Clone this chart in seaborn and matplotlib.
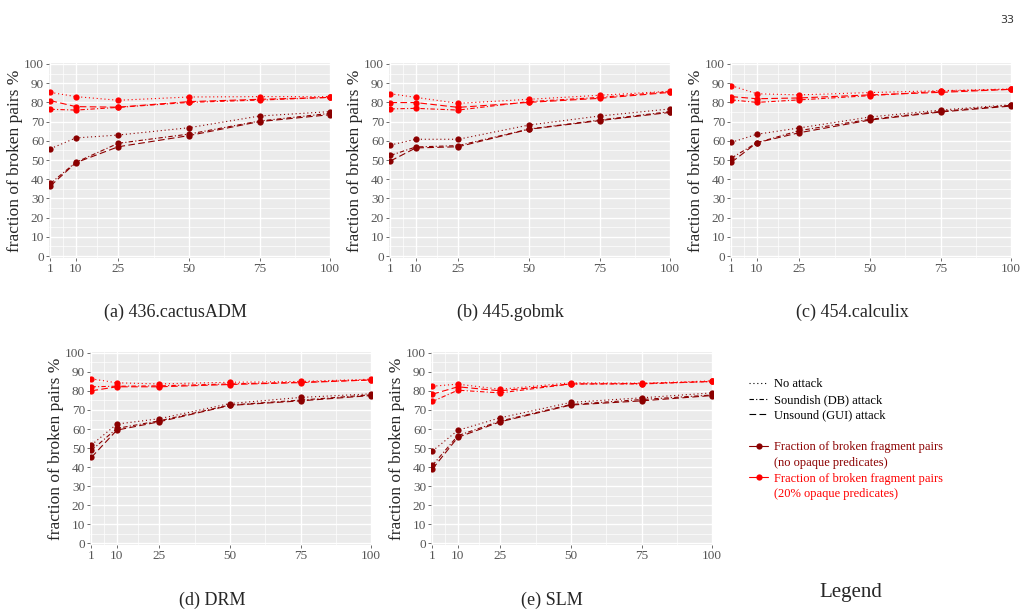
import numpy as np
import pandas as pd
import matplotlib
matplotlib.use('Agg')
import matplotlib.pyplot as plt
from matplotlib.lines import Line2D
import seaborn as sns

# percentage of fragments (x axis)
pct = [1, 10, 25, 50, 75, 100]

# 436.cactusADM
cactus_plain_none = [55.9, 61.5, 63.0, 66.8, 72.9, 75.2]
cactus_plain_db = [37.8, 48.8, 58.7, 63.5, 70.3, 74.3]
cactus_plain_gui = [36.5, 48.6, 56.9, 62.7, 70.0, 73.6]
cactus_opaque_none = [85.2, 83.0, 81.1, 82.8, 83.0, 83.0]
cactus_opaque_db = [76.4, 76.0, 77.4, 80.0, 81.2, 82.6]
cactus_opaque_gui = [80.9, 77.8, 77.5, 80.4, 81.6, 82.6]

# 445.gobmk
gobmk_plain_none = [57.8, 60.8, 60.8, 68.2, 72.9, 76.6]
gobmk_plain_db = [52.4, 56.8, 57.5, 66.1, 70.8, 75.2]
gobmk_plain_gui = [49.5, 56.3, 56.9, 66.0, 70.5, 74.8]
gobmk_opaque_none = [84.5, 82.6, 79.5, 81.6, 83.7, 85.8]
gobmk_opaque_db = [76.6, 76.9, 76.0, 80.4, 82.6, 85.6]
gobmk_opaque_gui = [79.9, 79.9, 77.4, 80.0, 82.1, 85.2]

# 454.calculix
calculix_plain_none = [59.2, 63.4, 66.7, 72.4, 76.0, 78.8]
calculix_plain_db = [51.0, 59.0, 65.3, 71.2, 75.3, 78.5]
calculix_plain_gui = [48.8, 59.0, 64.2, 70.8, 75.0, 78.1]
calculix_opaque_none = [88.7, 84.5, 83.9, 85.1, 86.1, 87.0]
calculix_opaque_db = [81.3, 80.0, 81.3, 83.5, 85.8, 86.8]
calculix_opaque_gui = [83.0, 81.9, 82.3, 83.9, 85.2, 86.8]

# DRM
drm_plain_none = [51.6, 62.6, 65.4, 73.4, 76.6, 78.5]
drm_plain_db = [48.8, 60.3, 64.3, 72.6, 75.2, 78.0]
drm_plain_gui = [45.1, 59.4, 63.8, 72.4, 74.8, 77.6]
drm_opaque_none = [86.4, 84.3, 83.7, 84.6, 85.0, 86.2]
drm_opaque_db = [82.2, 82.5, 82.7, 83.7, 84.6, 85.8]
drm_opaque_gui = [80.1, 82.2, 82.2, 83.4, 84.4, 85.8]

# SLM
slm_plain_none = [48.4, 59.3, 65.9, 74.0, 76.4, 79.0]
slm_plain_db = [40.9, 56.5, 64.2, 72.9, 75.5, 77.9]
slm_plain_gui = [39.0, 55.6, 63.8, 72.6, 74.8, 77.6]
slm_opaque_none = [82.5, 83.6, 80.9, 84.3, 84.1, 85.3]
slm_opaque_db = [74.5, 80.4, 79.0, 83.7, 83.7, 85.0]
slm_opaque_gui = [78.3, 82.2, 80.1, 83.7, 83.9, 85.0]

captions = ['(a) 436.cactusADM', '(b) 445.gobmk', '(c) 454.calculix', '(d) DRM', '(e) SLM']
attacks = ['No attack', 'Soundish (DB) attack', 'Unsound (GUI) attack']
groups = ['no opaque', '20% opaque']
group_labels = [('Fraction of broken fragment pairs', '(no opaque predicates)'),
                ('Fraction of broken fragment pairs', '(20% opaque predicates)')]

panels = [
    [cactus_plain_none, cactus_plain_db, cactus_plain_gui, cactus_opaque_none, cactus_opaque_db, cactus_opaque_gui],
    [gobmk_plain_none, gobmk_plain_db, gobmk_plain_gui, gobmk_opaque_none, gobmk_opaque_db, gobmk_opaque_gui],
    [calculix_plain_none, calculix_plain_db, calculix_plain_gui, calculix_opaque_none, calculix_opaque_db, calculix_opaque_gui],
    [drm_plain_none, drm_plain_db, drm_plain_gui, drm_opaque_none, drm_opaque_db, drm_opaque_gui],
    [slm_plain_none, slm_plain_db, slm_plain_gui, slm_opaque_none, slm_opaque_db, slm_opaque_gui],
]

palette = {groups[0]: '#8B0000', groups[1]: '#FF0000'}
dashes = {attacks[0]: (1, 2.5), attacks[1]: (4, 2, 1, 2), attacks[2]: (6, 3)}

sns.set_theme(style='darkgrid', rc={
    'axes.facecolor': '#EBEBEB',
    'grid.color': 'white',
    'xtick.bottom': True, 'ytick.left': True,
    'xtick.major.size': 2.5, 'ytick.major.size': 2.5,
    'xtick.major.width': 0.6, 'ytick.major.width': 0.6,
    'xtick.color': '#555555', 'ytick.color': '#555555',
    'xtick.major.pad': 1, 'ytick.major.pad': 1,
})
plt.rcParams['font.family'] = ['Liberation Serif', 'DejaVu Serif']

W, H = 1033, 615
fig = plt.figure(figsize=(W / 100, H / 100), dpi=100)

# axes boxes in pixels: left, top, width, height
boxes = [(49, 63, 282, 195), (389, 63, 282, 195), (730, 63, 282, 195),
         (90, 352, 282, 193), (431, 352, 282, 193)]
caption_pos = [(175, 312), (510, 312), (852, 312), (212, 600), (552, 600)]

for vals, box, cap, cpos in zip(panels, boxes, captions, caption_pos):
    l, t, w, h = box
    ax = fig.add_axes([l / W, 1 - (t + h) / H, w / W, h / H])
    rows = []
    for i, series in enumerate(vals):
        for xv, yv in zip(pct, series):
            rows.append({'pct': xv, 'value': yv,
                         'group': groups[i // 3], 'attack': attacks[i % 3]})
    df = pd.DataFrame(rows)
    sns.lineplot(data=df, x='pct', y='value', hue='group', style='attack',
                 palette=palette, dashes=dashes, markers={a: 'o' for a in attacks},
                 markersize=4.5, markeredgewidth=0, linewidth=0.8,
                 legend=False, ax=ax)
    ax.set_xlim(0.5, 100.3)
    ax.set_ylim(-1, 100.5)
    ax.set_xticks(pct)
    ax.set_xticks([5.5, 17.5, 37.5, 62.5, 87.5], minor=True)
    ax.set_yticks(np.arange(0, 101, 10))
    ax.set_yticks(np.arange(5, 100, 10), minor=True)
    ax.grid(which='major', color='white', linewidth=1.0)
    ax.grid(which='minor', color='white', linewidth=0.5)
    ax.tick_params(which='minor', length=0)
    ax.tick_params(labelsize=9.5, labelcolor='#555555')
    ax.set_xlabel('')
    ax.set_ylabel('fraction of broken pairs %', fontsize=12.5, labelpad=1)
    for s in ax.spines.values():
        s.set_visible(False)
    fig.text(cpos[0] / W, 1 - cpos[1] / H, cap, ha='center', va='center', fontsize=13)

# custom legend: line styles, a gap, then the two colour groups
blank = Line2D([], [], color='none')
handles = [Line2D([], [], color='black', linewidth=0.8, dashes=dashes[a]) for a in attacks]
labels = list(attacks)
colors = ['black'] * 3
handles.append(blank)
labels.append('')
colors.append('black')
for g, (first, second) in zip(groups, group_labels):
    handles += [Line2D([], [], color=palette[g], linewidth=0.8, marker='o', markersize=4.5,
                       markeredgewidth=0), blank]
    labels += [first, second]
    colors += [palette[g], palette[g]]

leg = fig.legend(handles, labels, loc='upper left', bbox_to_anchor=(738 / W, 1 - 367 / H),
                 frameon=False, fontsize=9, handlelength=1.5, handletextpad=0.5,
                 labelspacing=0.3)
for txt, col in zip(leg.get_texts(), colors):
    txt.set_color(col)

fig.text(851 / W, 1 - 593 / H, 'Legend', ha='center', va='center', fontsize=15)
fig.text(1007 / W, 1 - 20 / H, '33', ha='center', va='center', fontsize=8,
         family='DejaVu Sans', color='#333333')

fig.savefig('out.png', dpi=100)
